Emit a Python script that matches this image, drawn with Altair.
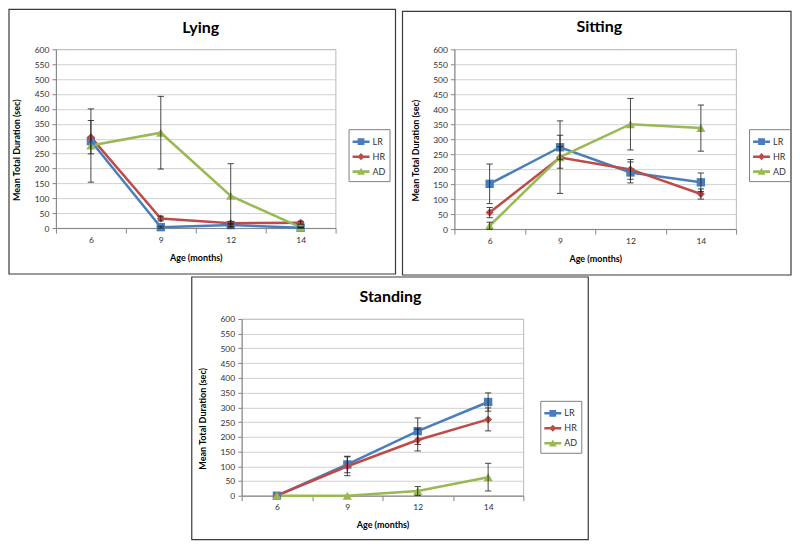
import altair as alt
import pandas as pd

ages = [6, 9, 12, 14]
series = ["LR", "HR", "AD"]
colors = ["#4A7EBB", "#BE4B48", "#98B954"]

lying_LR = [292, 3, 10, 1]
lying_HR = [305, 32, 16, 18]
lying_AD = [277, 320, 108, 2]
lying_LR_err = [0, 3, 5, 1]
lying_HR_err = [56, 8, 5, 5]
lying_AD_err = [123, 122, 108, 2]

sitting_LR = [151, 273, 189, 156]
sitting_HR = [55, 239, 199, 117]
sitting_AD = [11, 240, 350, 337]
sitting_LR_err = [66, 40, 35, 31]
sitting_HR_err = [17, 36, 33, 17]
sitting_AD_err = [12, 121, 86, 77]

standing_LR = [0, 106, 219, 318]
standing_HR = [0, 100, 189, 259]
standing_AD = [0, 0, 16, 63]
standing_LR_err = [0, 28, 45, 31]
standing_HR_err = [0, 32, 37, 39]
standing_AD_err = [0, 0, 15, 47]

legend_paths = [
    "M-1,-0.15H1V0.15H-1Z M-0.4,-0.4H0.4V0.4H-0.4Z",
    "M-1,-0.15H1V0.15H-1Z M0,-0.42L0.42,0L0,0.42L-0.42,0Z",
    "M-1,-0.15H1V0.15H-1Z M0,-0.46L0.46,0.38L-0.46,0.38Z",
]
marker_shapes = {"LR": ("square", 70), "HR": ("diamond", 64), "AD": ("triangle-up", 85)}

FONT = "Lato"


def make_frame(vals, errs):
    rows = []
    for s, v, e in zip(series, vals, errs):
        for a, vv, ee in zip(ages, v, e):
            rows.append({"series": s, "age": a, "value": vv, "err": ee,
                         "lo": vv - ee, "hi": vv + ee})
    return pd.DataFrame(rows)


def panel(title, vals, errs, w, h, box, tpos, lpos):
    df = make_frame(vals, errs)
    x = alt.X("age:O", bandPosition=0.5,
              scale=alt.Scale(type="band", domain=ages, paddingInner=0, paddingOuter=0),
              axis=alt.Axis(title="Age (months)", tickBand="extent", labelAngle=0,
                            grid=False, tickSize=5, labelPadding=2,
                            titleX=w / 2, titleY=29, titleBaseline="middle"))
    yscale = alt.Scale(domain=[0, 600], nice=False)
    yaxis = alt.Axis(values=list(range(0, 601, 50)), tickSize=4, labelPadding=3,
                     grid=True, titleX=-39, titleY=h / 2 + 11, titleBaseline="middle")
    ytitle = "Mean Total Duration (sec)"

    def Y(field):
        return alt.Y(field, scale=yscale, axis=yaxis, title=ytitle)

    base = alt.Chart(df)
    one = pd.DataFrame({"b": [0]})

    layers = []
    layers.append(alt.Chart(one).mark_rect(
        filled=False, color="#3a3a3a", strokeWidth=1.2).encode(
        x=alt.value(box[0]), x2=alt.value(box[1]), y=alt.value(box[2]), y2=alt.value(box[3])))

    layers.append(alt.Chart(pd.DataFrame({"t": [title]})).mark_text(
        font=FONT, fontSize=16, fontWeight="bold", color="black",
        align="center", baseline="middle").encode(
        text="t:N", x=alt.value(tpos[0]), y=alt.value(tpos[1])))

    for s, c in zip(series, colors):
        layers.append(base.transform_filter(alt.datum.series == s).mark_line(
            strokeWidth=2.5, color=c).encode(x=x, y=Y("value:Q")))

    for s, c in zip(series, colors):
        shp, sz = marker_shapes[s]
        layers.append(base.transform_filter(alt.datum.series == s).mark_point(
            filled=True, opacity=1, shape=shp, size=sz, color=c).encode(
            x=x, y=Y("value:Q")))

    eb = base.transform_filter(alt.datum.err > 0)
    layers.append(eb.mark_rule(color="#1a1a1a", strokeWidth=0.8).encode(
        x=x, y=Y("lo:Q"), y2="hi:Q"))
    layers.append(eb.mark_point(shape="M-1,0H1", size=40, filled=False, color="#1a1a1a",
                                strokeWidth=0.8, opacity=1).encode(x=x, y=Y("lo:Q")))
    layers.append(eb.mark_point(shape="M-1,0H1", size=40, filled=False, color="#1a1a1a",
                                strokeWidth=0.8, opacity=1).encode(x=x, y=Y("hi:Q")))

    leg = alt.Legend(title=None, orient="none", legendX=lpos[0], legendY=lpos[1],
                     symbolSize=289, symbolStrokeWidth=0, symbolOpacity=1,
                     labelFont=FONT, labelFontSize=9,
                     labelColor="#303030", strokeColor="#808080", fillColor="white",
                     padding=4, rowPadding=1, labelOffset=3)
    layers.append(base.mark_point(filled=True, opacity=0).encode(
        x=x, y=Y("value:Q"),
        color=alt.Color("series:N", scale=alt.Scale(domain=series, range=colors), legend=leg),
        shape=alt.Shape("series:N", scale=alt.Scale(domain=series, range=legend_paths),
                        legend=leg)))

    return alt.layer(*layers).properties(width=w, height=h)


lying = panel("Lying", [lying_LR, lying_HR, lying_AD],
              [lying_LR_err, lying_HR_err, lying_AD_err],
              280, 179, (-47, 340, -40, 225), (145, -21), (293, 80))
sitting = panel("Sitting", [sitting_LR, sitting_HR, sitting_AD],
                [sitting_LR_err, sitting_HR_err, sitting_AD_err],
                282, 180, (-52, 337, -38, 226), (145, -22), (295, 80))
standing = panel("Standing", [standing_LR, standing_HR, standing_AD],
                 [standing_LR_err, standing_HR_err, standing_AD_err],
                 282, 177, (-50, 347, -42, 221), (149, -22), (299, 82))

spacer = alt.Chart(pd.DataFrame({"b": [0]})).mark_point(size=0, opacity=0).encode(
    x=alt.value(0), y=alt.value(0)).properties(
    width=135, height=10, view=alt.ViewBackground(stroke=None))

top = alt.hconcat(lying, sitting, spacing=5).resolve_scale(
    color="independent", shape="independent")
bottom = alt.hconcat(spacer, standing, spacing=0).resolve_scale(
    color="independent", shape="independent")

chart = alt.vconcat(top, bottom, spacing=0).resolve_scale(
    color="independent", shape="independent"
).properties(
    padding=0, background="white"
).configure_view(stroke="#a6a6a6", strokeWidth=0.8).configure_axis(
    labelFont=FONT, titleFont=FONT, labelFontSize=8.5, titleFontSize=9,
    titleFontWeight="bold", labelColor="#303030", titleColor="black",
    domainColor="#868686", tickColor="#868686", gridColor="#c4c4c4",
    domainWidth=1, tickWidth=1, gridWidth=0.8
)

chart.save("out.html", embed_options={"renderer": "svg", "actions": False})
